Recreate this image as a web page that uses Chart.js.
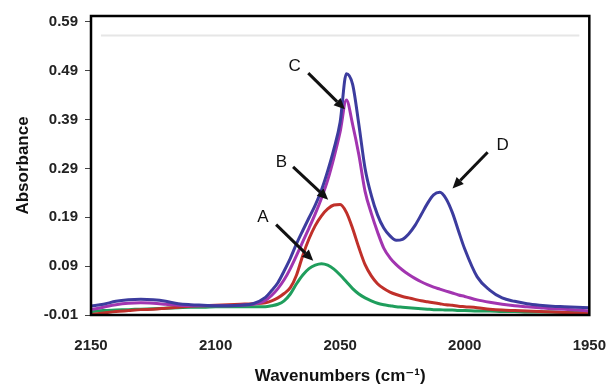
<!DOCTYPE html>
<html>
<head>
<meta charset="utf-8">
<script src="https://cdn.jsdelivr.net/npm/chart.js@4.4.1/dist/chart.umd.min.js"></script>
<style>
  html, body { margin: 0; padding: 0; background: #fff; }
  #wrap { width: 606px; height: 385px; }
</style>
</head>
<body>
<div id="wrap"><canvas id="irChart" width="606" height="385"></canvas></div>
<script>
// ---- data ----
const wavenumbers = [2150, 2145, 2140, 2135, 2130, 2125, 2120, 2115, 2110, 2105, 2100, 2095, 2090, 2085,
    2080, 2077.5, 2075, 2072.5, 2070, 2067.5, 2065, 2062.5, 2060, 2057.5, 2055, 2052.5, 2050, 2047.5,
    2045, 2042.5, 2040, 2037.5, 2035, 2032.5, 2030, 2027.5, 2025, 2022.5, 2020, 2017.5, 2015, 2012.5,
    2010, 2007.5, 2005, 2002.5, 2000,
    1995, 1990, 1985, 1980, 1975, 1970, 1965, 1960, 1955, 1950];

const spectrumD = [0.008, 0.012, 0.018, 0.021, 0.022, 0.021, 0.018, 0.013, 0.011, 0.010, 0.009, 0.009, 0.010, 0.013,
    0.026, 0.040, 0.056, 0.080, 0.106, 0.136, 0.163, 0.189, 0.215, 0.246, 0.285, 0.330, 0.385, 0.484,
    0.462, 0.380, 0.290, 0.235, 0.195, 0.168, 0.152, 0.143, 0.145, 0.156, 0.173, 0.195, 0.218, 0.236,
    0.241, 0.228, 0.200, 0.162, 0.125,
    0.068, 0.041, 0.025, 0.018, 0.013, 0.010, 0.008, 0.007, 0.006, 0.005];

const spectrumC = [0.001, 0.006, 0.011, 0.014, 0.015, 0.014, 0.012, 0.010, 0.009, 0.009, 0.009, 0.009, 0.010, 0.012,
    0.020, 0.030, 0.044, 0.062, 0.085, 0.112, 0.140, 0.168, 0.197, 0.229, 0.266, 0.312, 0.365, 0.430,
    0.380, 0.318, 0.243, 0.198, 0.160, 0.127, 0.107, 0.093, 0.082, 0.073, 0.065, 0.058, 0.052, 0.047,
    0.043, 0.039, 0.035, 0.031, 0.028,
    0.021, 0.016, 0.012, 0.009, 0.007, 0.005, 0.003, 0.002, 0.000, -0.002];

const spectrumB = [-0.009, -0.006, -0.003, -0.001, 0.001, 0.002, 0.004, 0.006, 0.008, 0.009, 0.010, 0.011, 0.012, 0.013,
    0.015, 0.019, 0.025, 0.034, 0.046, 0.072, 0.112, 0.146, 0.173, 0.193, 0.207, 0.215, 0.216, 0.200,
    0.167, 0.128, 0.093, 0.070, 0.054, 0.044, 0.037, 0.032, 0.028, 0.025, 0.022, 0.019, 0.017, 0.015,
    0.013, 0.011, 0.010, 0.008, 0.007,
    0.005, 0.002, 0.000, -0.001, -0.002, -0.003, -0.004, -0.005, -0.006, -0.007];

const spectrumA = [-0.003, -0.001, 0.000, 0.001, 0.002, 0.003, 0.004, 0.005, 0.006, 0.006, 0.007, 0.007, 0.007, 0.007,
    0.007, 0.009, 0.012, 0.019, 0.033, 0.054, 0.072, 0.085, 0.092, 0.095, 0.092, 0.084, 0.072, 0.058,
    0.044, 0.033, 0.025, 0.019, 0.014, 0.011, 0.009, 0.007, 0.006, 0.005, 0.004, 0.003, 0.002, 0.001,
    0.001, 0.000, 0.000, -0.001, -0.001,
    -0.002, -0.002, -0.003, -0.003, -0.004, -0.004, -0.004, -0.005, -0.005, -0.005];

// faint horizontal line near the top of the plot
const faintLineX = [2146, 1954];
const faintLineY = [0.562, 0.562];

const xTicks = [2150, 2100, 2050, 2000, 1950];
const yTicks = [-0.01, 0.09, 0.19, 0.29, 0.39, 0.49, 0.59];
const yTickLabels = ['-0.01', '0.09', '0.19', '0.29', '0.39', '0.49', '0.59'];

// ---- arrow annotations (in data units) ----
const annotations = [
    { text: 'A', at: [2081.0, 0.189], from: [2075.7, 0.175], to: [2060.8, 0.101] },
    { text: 'B', at: [2073.6, 0.303], from: [2068.9, 0.293], to: [2054.8, 0.226] },
    { text: 'C', at: [2068.3, 0.498], from: [2062.8, 0.485], to: [2048.1, 0.411] },
    { text: 'D', at: [1984.8, 0.337], from: [1990.8, 0.323], to: [2004.9, 0.249] },
];

const FONT = "'Liberation Sans', Arial, 'DejaVu Sans', sans-serif";

function toPoints(xs, ys) {
    return xs.map((x, i) => ({ x: x, y: ys[i] }));
}

function lineSet(label, ys, color) {
    return {
        label: label,
        data: toPoints(wavenumbers, ys),
        borderColor: color,
        borderWidth: 3,
        pointRadius: 0,
        fill: false,
        cubicInterpolationMode: 'monotone',
    };
}

// frame + labelled arrows
const framePlugin = {
    id: 'frame',
    afterDraw(chart) {
        const { ctx, chartArea: a, scales } = chart;
        const px = p => [scales.x.getPixelForValue(p[0]), scales.y.getPixelForValue(p[1])];

        ctx.save();
        ctx.strokeStyle = '#000';
        ctx.lineWidth = 2.5;
        ctx.strokeRect(a.left, a.top, a.right - a.left, a.bottom - a.top);

        annotations.forEach(an => {
            const [x0, y0] = px(an.from);
            const [x1, y1] = px(an.to);
            const ang = Math.atan2(y1 - y0, x1 - x0);
            const head = 11;
            const bx = x1 - head * Math.cos(ang);
            const by = y1 - head * Math.sin(ang);

            ctx.strokeStyle = '#111';
            ctx.lineWidth = 3;
            ctx.beginPath();
            ctx.moveTo(x0, y0);
            ctx.lineTo(bx, by);
            ctx.stroke();

            ctx.fillStyle = '#111';
            ctx.beginPath();
            ctx.moveTo(x1, y1);
            ctx.lineTo(bx + 5 * Math.sin(ang), by - 5 * Math.cos(ang));
            ctx.lineTo(bx - 5 * Math.sin(ang), by + 5 * Math.cos(ang));
            ctx.closePath();
            ctx.fill();

            const [tx, ty] = px(an.at);
            ctx.font = '17px ' + FONT;
            ctx.textAlign = 'center';
            ctx.textBaseline = 'middle';
            ctx.fillStyle = '#111';
            ctx.fillText(an.text, tx, ty);
        });
        ctx.restore();
    }
};

new Chart(document.getElementById('irChart'), {
    type: 'line',
    data: {
        datasets: [
            lineSet('D', spectrumD, '#3c3c9e'),
            lineSet('C', spectrumC, '#a235b0'),
            lineSet('B', spectrumB, '#c0302a'),
            lineSet('A', spectrumA, '#1f9e5c'),
            {
                label: 'faint',
                data: toPoints(faintLineX, faintLineY),
                borderColor: '#e6e6e6',
                borderWidth: 2,
                pointRadius: 0,
            },
        ]
    },
    options: {
        responsive: false,
        animation: false,
        layout: { padding: { top: 12, right: 0, left: 0, bottom: 0 } },
        plugins: {
            legend: { display: false },
            tooltip: { enabled: false },
        },
        scales: {
            x: {
                type: 'linear',
                reverse: true,
                min: 1950,
                max: 2150,
                afterBuildTicks: s => { s.ticks = xTicks.map(v => ({ value: v })); },
                afterFit: s => { s.height = 70; },
                border: { display: false },
                // invisible tick marks push the labels down without widening the side padding
                grid: {
                    drawOnChartArea: false,
                    drawTicks: true,
                    tickLength: 22,
                    color: 'rgba(0,0,0,0)',
                },
                ticks: {
                    padding: 0,
                    color: '#222',
                    font: { family: FONT, size: 15, weight: 'bold' },
                    maxRotation: 0,
                    callback: v => String(v),
                },
                title: {
                    display: true,
                    text: 'Wavenumbers (cm⁻¹)',
                    color: '#111',
                    font: { family: FONT, size: 17, weight: 'bold', lineHeight: 1 },
                    padding: { top: 0, bottom: 0 },
                }
            },
            y: {
                min: -0.01,
                max: 0.602,
                afterBuildTicks: s => { s.ticks = yTicks.map(v => ({ value: v })); },
                afterFit: s => { s.width = 91; },
                border: { display: false },
                grid: {
                    drawOnChartArea: false,
                    drawTicks: true,
                    tickLength: 6,
                    color: '#444',
                },
                ticks: {
                    padding: 7,
                    color: '#222',
                    font: { family: FONT, size: 15, weight: 'bold' },
                    callback: (v, i) => yTickLabels[i],
                },
                title: {
                    display: true,
                    text: 'Absorbance',
                    color: '#111',
                    font: { family: FONT, size: 17, weight: 'bold', lineHeight: 1.2 },
                    padding: { top: 13, bottom: 0 },
                }
            }
        }
    },
    plugins: [framePlugin]
});
</script>
</body>
</html>
